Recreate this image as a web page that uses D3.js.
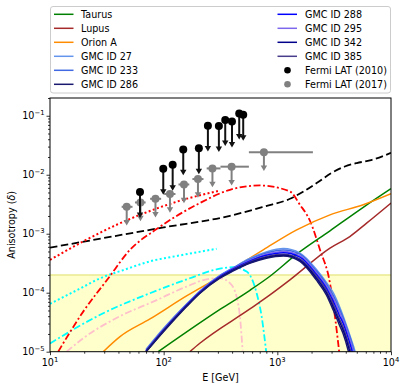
<!DOCTYPE html>
<html><head><meta charset="utf-8">
<script src="https://cdn.jsdelivr.net/npm/d3@7"></script>
<style>body{margin:0;background:#fff} svg{display:block;font-family:"DejaVu Sans",sans-serif}</style>
</head><body><svg id="c" width="407" height="389"></svg>
<script>
// ---------- data ----------
const bandTop = 2e-4;
const xTicks = [10, 100, 1000, 10000];
const xTickExp = ["1", "2", "3", "4"];
const yTicks = [1e-5, 1e-4, 1e-3, 1e-2, 1e-1];
const yTickExp = ["\u22125", "\u22124", "\u22123", "\u22122", "\u22121"];

const taurusE = [89.6, 313, 574, 861, 1480, 2905, 5700, 10000];
const taurusD = [1.0e-5, 5.2e-5, 1.1e-4, 1.9e-4, 4.5e-4, 1.12e-3, 2.8e-3, 5.8e-3];
const lupusE = [170, 208, 574, 861, 1291, 2905, 4345, 6100, 10000];
const lupusD = [1e-5, 1.39e-5, 5.31e-5, 9.18e-5, 1.65e-4, 5.7e-4, 8.97e-4, 1.51e-3, 3.31e-3];
const orionE = [29.4, 41.3, 75.8, 159, 313, 752, 1480, 2905, 5700, 10000];
const orionD = [1e-5, 1.8e-5, 3.59e-5, 8.83e-5, 1.88e-4, 5.33e-4, 1.16e-3, 2.09e-3, 3.1e-3, 4.76e-3];

const gmcE = [70, 100, 160, 210, 310, 410, 570, 800, 1130, 1580, 2200, 2700, 3100, 3500, 3800, 4200, 4500, 4800, 5200];
const gmc27  = [1.1e-5, 2.5e-5, 6.5e-5, 1.08e-4, 1.95e-4, 2.66e-4, 3.8e-4, 4.9e-4, 5.6e-4, 4.7e-4, 2.5e-4, 1.5e-4, 1.0e-4, 6.0e-5, 4.0e-5, 2.3e-5, 1.55e-5, 1.05e-5, 5e-6];
const gmc233 = [1.07e-5, 2.42e-5, 6.4e-5, 1.07e-4, 1.92e-4, 2.62e-4, 3.65e-4, 4.7e-4, 5.3e-4, 4.5e-4, 2.35e-4, 1.4e-4, 9.0e-5, 5.4e-5, 3.7e-5, 2.15e-5, 1.45e-5, 9e-6, 4.5e-6];
const gmc286 = [1.0e-5, 2.2e-5, 5.9e-5, 9.9e-5, 1.75e-4, 2.34e-4, 3.14e-4, 3.85e-4, 4.2e-4, 3.4e-4, 1.65e-4, 9.2e-5, 5.1e-5, 2.9e-5, 2.0e-5, 1.05e-5, 6e-6, 3e-6, 1e-6];
const gmc288 = [1.03e-5, 2.33e-5, 6.2e-5, 1.04e-4, 1.85e-4, 2.52e-4, 3.42e-4, 4.3e-4, 4.75e-4, 4.0e-4, 2.05e-4, 1.2e-4, 7.2e-5, 4.2e-5, 3.0e-5, 1.7e-5, 1.1e-5, 6.5e-6, 3e-6];
const gmc295 = [1.05e-5, 2.38e-5, 6.3e-5, 1.06e-4, 1.89e-4, 2.57e-4, 3.52e-4, 4.5e-4, 5.0e-4, 4.25e-4, 2.2e-4, 1.3e-4, 8.2e-5, 4.8e-5, 3.4e-5, 1.95e-5, 1.3e-5, 8e-6, 4e-6];
const gmc342 = [1.0e-5, 2.25e-5, 6.0e-5, 1.0e-4, 1.78e-4, 2.4e-4, 3.22e-4, 3.95e-4, 4.32e-4, 3.55e-4, 1.78e-4, 1.0e-4, 5.7e-5, 3.3e-5, 2.3e-5, 1.25e-5, 7.5e-6, 4e-6, 1.5e-6];
const gmc385 = [1.02e-5, 2.3e-5, 6.1e-5, 1.02e-4, 1.82e-4, 2.46e-4, 3.32e-4, 4.1e-4, 4.5e-4, 3.75e-4, 1.92e-4, 1.1e-4, 6.4e-5, 3.7e-5, 2.6e-5, 1.45e-5, 9e-6, 5e-6, 2e-6];

const dashedE = [10, 100, 383, 778, 1291, 1700, 2218, 3000, 3925, 5000, 6520, 10000];
const dashedD = [5.8e-4, 1.28e-3, 2.01e-3, 2.92e-3, 3.91e-3, 5.2e-3, 7.24e-3, 1.07e-2, 1.38e-2, 1.58e-2, 1.75e-2, 2.35e-2];
const redDotE = [10, 19.6, 38.6, 61.9, 148.6, 282, 300];
const redDotD = [3.6e-4, 7.4e-4, 1.42e-3, 2.09e-3, 3.77e-3, 5.15e-3, 5.3e-3];
const redDDE = [11.8, 19.6, 32.6, 50.5, 87.3, 208, 383, 703, 1291, 1581, 1936, 2373, 2905, 3215, 3500];
const redDDD = [1e-5, 4.78e-5, 1.76e-4, 5.33e-4, 1.21e-3, 3.31e-3, 5.56e-3, 6.58e-3, 5.2e-3, 3.1e-3, 1.66e-3, 5.33e-4, 1.45e-4, 3.93e-5, 1e-5];
const cyanDotE = [10, 18, 27.5, 45, 75.8, 140, 292];
const cyanDotD = [6.5e-5, 1.15e-4, 1.75e-4, 2.45e-4, 3.4e-4, 4.3e-4, 5.55e-4];
const cyanDDE = [10, 29.4, 75.8, 170, 292, 409, 537, 658, 728, 798];
const cyanDDD = [1.38e-5, 4.49e-5, 9.8e-5, 1.76e-4, 2.49e-4, 2.71e-4, 2.28e-4, 9.8e-5, 3.93e-5, 1e-5];
const pinkE = [14, 19.6, 41.3, 81, 159, 239, 313, 383, 438, 469, 495];
const pinkD = [1e-5, 1.69e-5, 4.0e-5, 7.06e-5, 1.27e-4, 1.69e-4, 1.76e-4, 1.45e-4, 8.6e-5, 3.9e-5, 1.05e-5];

const fermi10E = [61.9, 99.2, 120, 148.7, 204, 245, 306, 348, 399, 462, 501];
const fermi10D = [5.1e-3, 1.26e-2, 1.48e-2, 2.69e-2, 2.8e-2, 6.8e-2, 6.7e-2, 8.5e-2, 8.0e-2, 0.109, 0.104];
const fermi17E = [47.3, 62.5, 84.7, 113.6, 150.9, 200.3, 268.6, 396, 762];
const fermi17D = [2.86e-3, 3.39e-3, 3.91e-3, 4.72e-3, 6.84e-3, 8.45e-3, 1.28e-2, 1.37e-2, 2.41e-2];
const fermi17Lo = [42.7, 55.9, 76, 101, 135, 179, 239, 316, 562];
const fermi17Hi = [53.2, 69.4, 95, 127, 168, 224, 316, 562, 2056];

const legendLeft = ["Taurus", "Lupus", "Orion A", "GMC ID 27", "GMC ID 233", "GMC ID 286"];
const legendRight = ["GMC ID 288", "GMC ID 295", "GMC ID 342", "GMC ID 385", "Fermi LAT (2010)", "Fermi LAT (2017)"];

// ---------- drawing ----------
const svg = d3.select("#c");
const L = 50, R = 391, T = 98, B = 351.7;
const x = d3.scaleLog().domain([10, 1e4]).range([L, R]);
const y = d3.scaleLog().domain([1e-5, 0.2]).range([B, T]);

svg.append("defs").append("clipPath").attr("id", "clip")
  .append("rect").attr("x", L).attr("y", T).attr("width", R - L).attr("height", B - T);
const plot = svg.append("g").attr("clip-path", "url(#clip)");

plot.append("rect").attr("x", L).attr("width", R - L)
  .attr("y", y(bandTop)).attr("height", y(1e-5) - y(bandTop)).attr("fill", "#ffffcc");
plot.append("line").attr("x1", L).attr("x2", R).attr("y1", y(bandTop)).attr("y2", y(bandTop))
  .attr("stroke", "#eaea90").attr("stroke-width", 1.6);

const line = d3.line().x(d => x(d[0])).y(d => y(d[1])).curve(d3.curveMonotoneX);
function draw(E, D, color, width, dash) {
  plot.append("path").datum(E.map((e, i) => [e, D[i]]))
    .attr("d", line).attr("fill", "none").attr("stroke", color)
    .attr("stroke-width", width).attr("stroke-dasharray", dash || null);
}
draw(dashedE, dashedD, "#000", 1.8, "7.5,3.5");
draw(cyanDotE, cyanDotD, "#00ffff", 2, "2,2.4");
draw(cyanDDE, cyanDDD, "#00ffff", 1.8, "7,2.5,2,2.5");
draw(pinkE, pinkD, "#ffc0cb", 1.8, "7,2.5,2,2.5");
draw(redDotE, redDotD, "#ff0000", 2, "2,2.4");
draw(redDDE, redDDD, "#ff0000", 1.8, "7,2.5,2,2.5");
draw(taurusE, taurusD, "#008000", 1.5);
draw(lupusE, lupusD, "#a52a2a", 1.5);
draw(orionE, orionD, "#ff8c00", 1.5);
const gmcSeries = [[gmc27, "#6495ed"], [gmc233, "#4169e1"], [gmc295, "#7b68ee"], [gmc288, "#0000ff"],
  [gmc385, "#483d8b"], [gmc342, "#00008b"], [gmc286, "#191970"]];
gmcSeries.forEach(([D, c]) => draw(gmcE, D, c, 1.5));

// Fermi 2017 (grey)
const pts = svg.append("g");
fermi17E.forEach((e, i) => {
  const cx = x(e), cy = y(fermi17D[i]), ty = y(fermi17D[i] * 0.53);
  pts.append("line").attr("x1", x(fermi17Lo[i])).attr("x2", x(fermi17Hi[i])).attr("y1", cy).attr("y2", cy)
    .attr("stroke", "#808080").attr("stroke-width", 2);
  pts.append("line").attr("x1", cx).attr("x2", cx).attr("y1", cy).attr("y2", ty)
    .attr("stroke", "#808080").attr("stroke-width", 2);
  pts.append("path").attr("d", `M${cx - 3.2},${ty - 3} L${cx + 3.2},${ty - 3} L${cx},${ty + 2.5} Z`).attr("fill", "#808080");
  pts.append("circle").attr("cx", cx).attr("cy", cy).attr("r", 4).attr("fill", "#808080");
});
// Fermi 2010 (black)
fermi10E.forEach((e, i) => {
  const cx = x(e), cy = y(fermi10D[i]), ty = y(fermi10D[i] * 0.4);
  pts.append("line").attr("x1", cx).attr("x2", cx).attr("y1", cy).attr("y2", ty)
    .attr("stroke", "#111").attr("stroke-width", 2);
  pts.append("path").attr("d", `M${cx - 3.2},${ty - 3} L${cx + 3.2},${ty - 3} L${cx},${ty + 2.5} Z`).attr("fill", "#111");
  pts.append("circle").attr("cx", cx).attr("cy", cy).attr("r", 4).attr("fill", "#000");
});

// axes
const minorX = [], minorY = [];
[10, 100, 1000].forEach(d => { for (let k = 2; k <= 9; k++) minorX.push(d * k); });
[1e-5, 1e-4, 1e-3, 1e-2, 1e-1].forEach(d => { for (let k = 2; k <= 9; k++) if (d * k <= 0.2 + 1e-9) minorY.push(d * k); });

const ax = svg.append("g").attr("transform", `translate(0,${B})`);
ax.call(d3.axisBottom(x).tickValues(xTicks).tickSize(3.5).tickFormat(""));
ax.append("g").call(d3.axisBottom(x).tickValues(minorX).tickSize(2).tickFormat(""));
const ay = svg.append("g").attr("transform", `translate(${L},0)`);
ay.call(d3.axisLeft(y).tickValues(yTicks).tickSize(3.5).tickFormat(""));
ay.append("g").call(d3.axisLeft(y).tickValues(minorY).tickSize(2).tickFormat(""));
svg.selectAll(".domain").remove();
svg.selectAll(".tick line").attr("stroke", "#000").attr("stroke-width", 0.8);

svg.append("rect").attr("x", L).attr("y", T).attr("width", R - L).attr("height", B - T)
  .attr("fill", "none").attr("stroke", "#000").attr("stroke-width", 1);

xTicks.forEach((v, i) => {
  const t = svg.append("text").attr("x", x(v)).attr("y", 366).attr("text-anchor", "middle")
    .attr("font-size", 9.6).attr("fill", "#000");
  t.append("tspan").text("10");
  t.append("tspan").attr("dy", -4).attr("font-size", 6.8).text(xTickExp[i]);
});
yTicks.forEach((v, i) => {
  const t = svg.append("text").attr("x", 44.5).attr("y", y(v) + 3.5).attr("text-anchor", "end")
    .attr("font-size", 9.6).attr("fill", "#000");
  t.append("tspan").text("10");
  t.append("tspan").attr("dy", -4).attr("font-size", 6.8).text(yTickExp[i]);
});

svg.append("text").attr("x", (L + R) / 2).attr("y", 381).attr("text-anchor", "middle")
  .attr("font-size", 9.6).text("E [GeV]");
const yl = svg.append("text").attr("transform", `translate(15,${(T + B) / 2}) rotate(-90)`)
  .attr("text-anchor", "middle").attr("font-size", 9.6);
yl.append("tspan").text("Anisotropy (");
yl.append("tspan").attr("font-style", "italic").text("\u03b4");
yl.append("tspan").text(")");

// legend
const lg = svg.append("g");
lg.append("rect").attr("x", 50.5).attr("y", 6.5).attr("width", 340).attr("height", 86.5).attr("rx", 2.5)
  .attr("fill", "#fff").attr("fill-opacity", 0.8).attr("stroke", "#cccccc").attr("stroke-width", 1);
const leftColors = ["#008000", "#a52a2a", "#ff8c00", "#6495ed", "#4169e1", "#191970"];
const rightColors = ["#0000ff", "#7b68ee", "#00008b", "#483d8b"];
legendLeft.forEach((s, i) => {
  const cy = 14.3 + i * 14;
  lg.append("line").attr("x1", 54).attr("x2", 73.5).attr("y1", cy).attr("y2", cy)
    .attr("stroke", leftColors[i]).attr("stroke-width", 1.5);
  lg.append("text").attr("x", 81).attr("y", cy + 3.5).attr("font-size", 9.6).text(s);
});
legendRight.forEach((s, i) => {
  const cy = 14.3 + i * 14;
  if (i < 4) {
    lg.append("line").attr("x1", 277.5).attr("x2", 297).attr("y1", cy).attr("y2", cy)
      .attr("stroke", rightColors[i]).attr("stroke-width", 1.5);
  } else {
    lg.append("circle").attr("cx", 287.5).attr("cy", cy).attr("r", 3.3).attr("fill", i === 4 ? "#000" : "#808080");
  }
  lg.append("text").attr("x", 305).attr("y", cy + 3.5).attr("font-size", 9.6).text(s);
});
</script></body></html>
